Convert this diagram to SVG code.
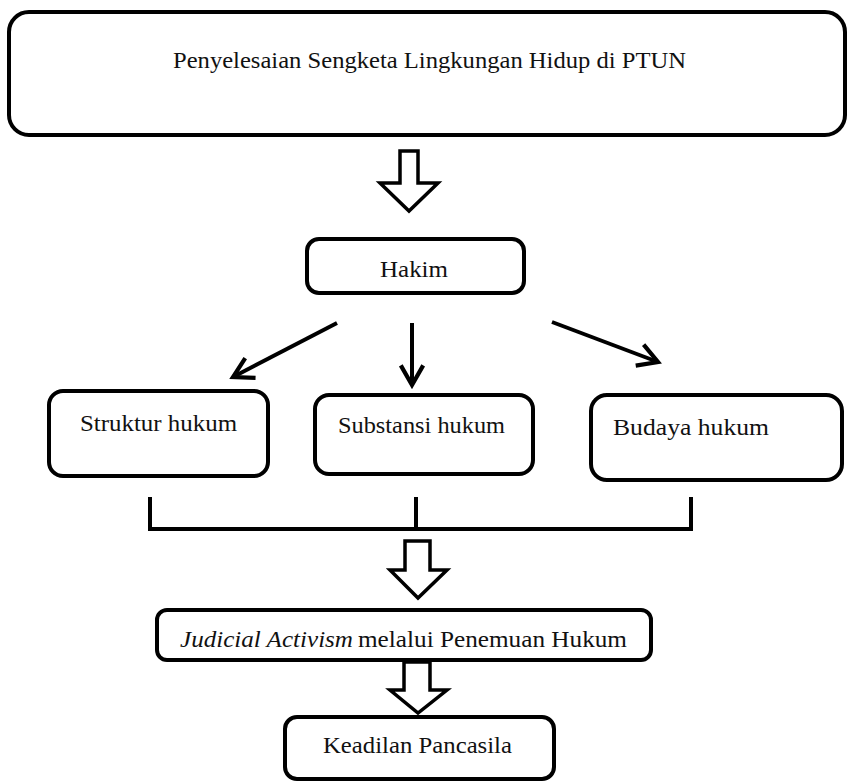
<svg xmlns="http://www.w3.org/2000/svg" width="848" height="784" viewBox="0 0 848 784">
<defs>
<style>
.box{fill:#fff;stroke:#000;stroke-width:4}
.hollow{fill:#fff;stroke:#000;stroke-width:3.5;stroke-linejoin:miter}
.t{font-family:"Liberation Serif","Times New Roman",serif;font-size:23.5px;fill:#111}
.ln{fill:none;stroke:#000;stroke-width:4}
</style>
<marker id="v" viewBox="0 0 20 20" refX="17" refY="10" markerWidth="28" markerHeight="28" markerUnits="userSpaceOnUse" orient="auto">
<path d="M3,2 L17,10 L3,18" fill="none" stroke="#000" stroke-width="3"/>
</marker>
</defs>
<rect width="848" height="784" fill="#fff"/>
<g id="node-top"><rect class="box" x="9" y="12" width="836" height="123" rx="20"/>
<text class="t" x="173" y="68" textLength="513" lengthAdjust="spacingAndGlyphs">Penyelesaian Sengketa Lingkungan Hidup di PTUN</text></g>
<g id="node-hakim"><rect class="box" x="307" y="239" width="217" height="54" rx="12"/>
<text class="t" x="380" y="277" textLength="68" lengthAdjust="spacingAndGlyphs">Hakim</text></g>
<g id="node-struktur"><rect class="box" x="49" y="391" width="219" height="85" rx="14"/>
<text class="t" x="80" y="431" textLength="157" lengthAdjust="spacingAndGlyphs">Struktur hukum</text></g>
<g id="node-substansi"><rect class="box" x="315" y="395" width="218" height="79" rx="14"/>
<text class="t" x="338" y="433" textLength="167" lengthAdjust="spacingAndGlyphs">Substansi hukum</text></g>
<g id="node-budaya"><rect class="box" x="591" y="395" width="251" height="85" rx="16"/>
<text class="t" x="613" y="435" textLength="156" lengthAdjust="spacingAndGlyphs">Budaya hukum</text></g>
<g id="node-judicial"><rect class="box" x="157" y="610" width="494" height="50" rx="10"/>
<text class="t" x="180" y="647"><tspan font-style="italic" textLength="173" lengthAdjust="spacingAndGlyphs">Judicial Activism</tspan><tspan x="358" textLength="269" lengthAdjust="spacingAndGlyphs">melalui Penemuan Hukum</tspan></text></g>
<g id="node-keadilan"><rect class="box" x="285" y="717" width="269" height="62" rx="12"/>
<text class="t" x="323" y="753" textLength="189" lengthAdjust="spacingAndGlyphs">Keadilan Pancasila</text></g>
<g id="connectors">
<polygon class="hollow" points="400,151 418,151 418,183 438,183 409,211 380,183 400,183"/>
<line class="ln" x1="337" y1="323" x2="233" y2="377" marker-end="url(#v)"/>
<line class="ln" x1="412" y1="323" x2="412" y2="385" marker-end="url(#v)"/>
<line class="ln" x1="552" y1="322" x2="658" y2="362" marker-end="url(#v)"/>
<path class="ln" d="M150,497 V529 H691 V497 M416,497 V529"/>
<polygon class="hollow" points="405,541 430,541 430,570 447,570 418,598 390,570 405,570"/>
<polygon class="hollow" points="404,662 430,662 430,690 447,690 418,713 390,690 404,690"/>
</g>
</svg>
